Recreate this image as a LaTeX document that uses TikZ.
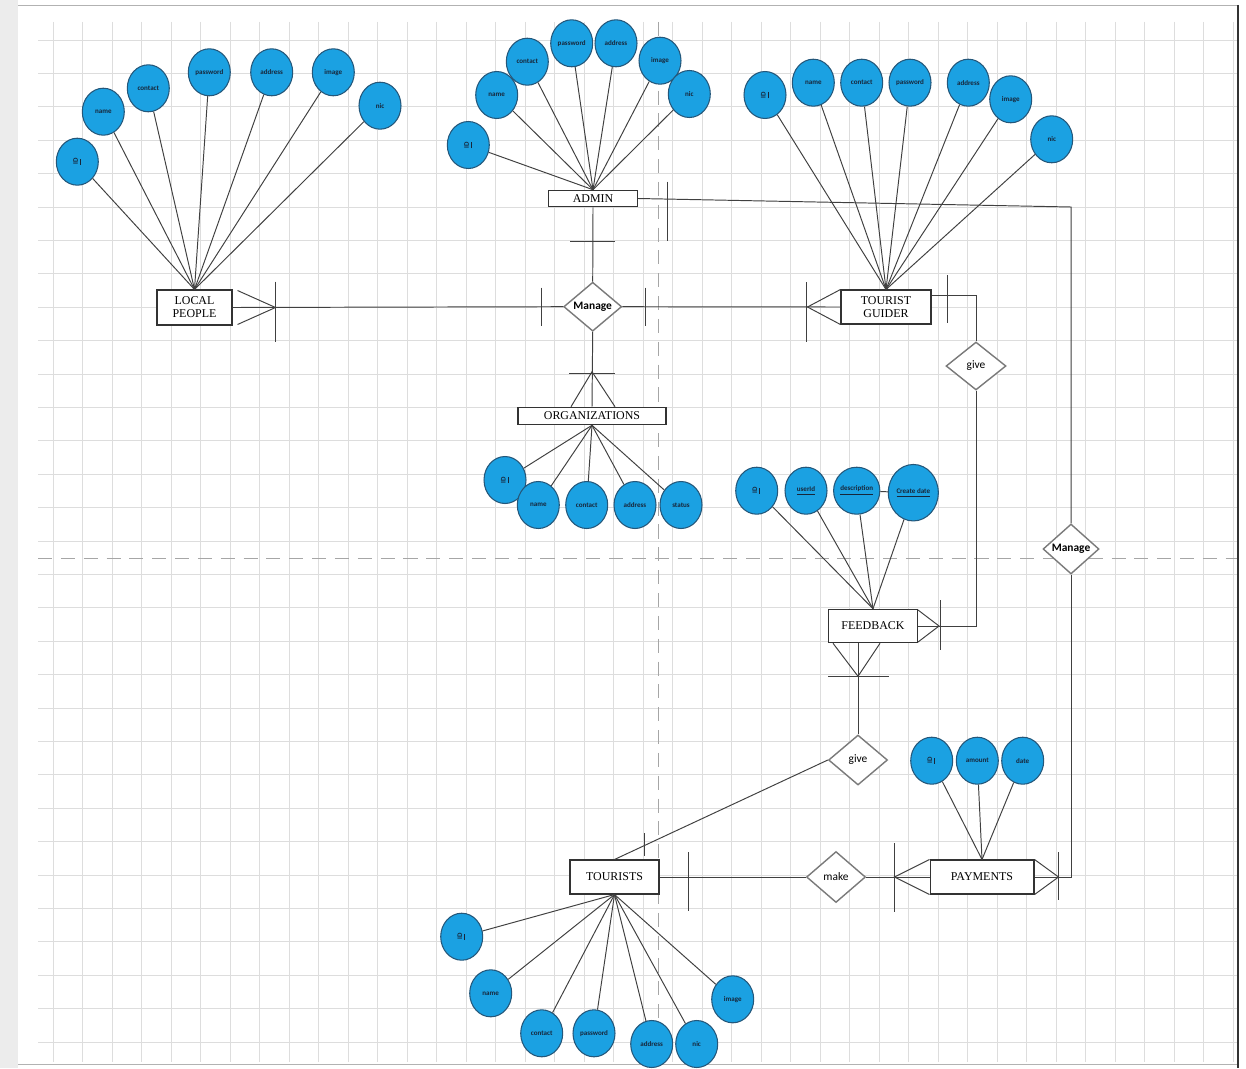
\documentclass[tikz,border=0pt]{standalone}
\usepackage{fontspec}
\setmainfont{Liberation Serif}
\newfontfamily\calfont{Carlito}
\usetikzlibrary{shapes.geometric,calc}
\definecolor{attrfill}{HTML}{1BA1E2}
\definecolor{attrdraw}{HTML}{24577A}
\definecolor{attrtext}{HTML}{17263A}
\definecolor{gridline}{HTML}{DDDDDD}
\definecolor{relline}{HTML}{7A7A7A}
\tikzstyle{attr} = [ellipse,draw=attrdraw,line width=0.6pt,fill=attrfill,minimum width=0.84cm,minimum height=0.94cm,inner sep=0pt,text=attrtext,font=\calfont\bfseries\fontsize{4}{4}\selectfont]
\tikzstyle{ent} = [rectangle,draw=black!80,line width=0.6pt,fill=white,inner sep=0pt,align=center,font=\fontsize{6.8}{7.4}\selectfont]
\tikzstyle{rel} = [diamond,draw=relline,line width=0.8pt,fill=white,inner sep=0pt,font=\calfont\fontsize{6.5}{7}\selectfont]
\tikzstyle{conn} = [draw=black!75,line width=0.55pt]
\newcommand{\idtext}{\rotatebox{90}{\underline{ID}}}

\begin{document}
\begin{tikzpicture}[x=0.02cm,y=-0.02cm]
	\useasboundingbox (0,0) rectangle (1246,1068);

	% page and grid
	\fill[white] (0,0) rectangle (1246,1068);
	\fill[gray!15] (0,0) rectangle (18,1068);
	\foreach \gx in {0,...,40}
		\draw[gridline,line width=0.4pt] ({53.3+29.5*\gx},22) -- ({53.3+29.5*\gx},1062);
	\foreach \gy in {-1,...,29}
		\draw[gridline,line width=0.4pt] (38,{73.3+33.4*\gy}) -- (1238,{73.3+33.4*\gy});
	\draw[gray!70,dashed,dash pattern=on 8pt off 5pt] (658,22) -- (658,1062);
	\draw[gray!70,dashed,dash pattern=on 8pt off 5pt] (38,558) -- (1238,558);
	\draw[gray!60] (18,5) -- (1238,5);
	\draw[gray!60] (18,1064) -- (1238,1064);
	\draw[black!80,line width=0.8pt] (1238,5) -- (1238,1068);

	% entities
	\node[ent,minimum width=1.5cm,minimum height=0.7cm] (lp) at (194.5,307.5) {LOCAL\\PEOPLE};
	\node[ent,minimum width=1.78cm,minimum height=0.33cm] (admin) at (593,198.5) {ADMIN};
	\node[ent,minimum width=1.8cm,minimum height=0.68cm] (tg) at (886,307) {TOURIST\\GUIDER};
	\node[ent,minimum width=2.96cm,minimum height=0.35cm] (org) at (592,416) {ORGANIZATIONS};
	\node[ent,minimum width=1.78cm,minimum height=0.67cm] (fb) at (873,626) {FEEDBACK};
	\node[ent,minimum width=2.08cm,minimum height=0.68cm] (pay) at (982,877) {PAYMENTS};
	\node[ent,minimum width=1.78cm,minimum height=0.68cm] (tour) at (614.5,877) {TOURISTS};

	% relationships
	\node[rel,minimum width=1.16cm,minimum height=0.98cm] (mng1) at (592.7,306.7) {\bfseries Manage};
	\node[rel,minimum width=1.12cm,minimum height=1cm] (mng2) at (1071,549) {\bfseries Manage};
	\node[rel,minimum width=1.2cm,minimum height=0.96cm] (give1) at (976,366) {give};
	\node[rel,minimum width=1.18cm,minimum height=1cm] (give2) at (858,760) {give};
	\node[rel,minimum width=1.18cm,minimum height=1.02cm] (make) at (836,877) {make};

	% attributes
	\foreach \n/\x/\y/\t in {id/77.3/161.7/{\idtext},name/103.3/111.7/name,contact/148.3/88.3/contact,
			password/209.3/72.3/password,address/271.7/72.3/address,image/333.3/72.3/image,nic/380/105.7/nic}{
		\node[attr] (lp-\n) at (\x,\y) {\t};
		\draw[conn] (lp-\n) -- (lp.north);
	}
	\foreach \n/\x/\y/\t in {id/468.3/145/{\idtext},name/496.7/95/name,contact/527.3/61.7/contact,
			password/571.7/43.3/password,address/616/43.3/address,image/660/60.7/image,nic/689.3/94/nic}{
		\node[attr] (admin-\n) at (\x,\y) {\t};
		\draw[conn] (admin-\n) -- (admin.north);
	}
	\foreach \n/\x/\y/\t in {id/765/95/{\idtext},name/813.3/82.7/name,contact/861.7/82.7/contact,
			password/910/82.7/password,address/968.3/82.7/address,image/1010.7/99.3/image,nic/1051.7/139.3/nic}{
		\node[attr] (tg-\n) at (\x,\y) {\t};
		\draw[conn] (tg-\n) -- (tg.north);
	}
	\foreach \n/\x/\y/\t in {id/505/480/{\idtext},name/538.3/505/name,contact/586.7/505/contact,
			address/635/505/address,status/681/505/status}{
		\node[attr] (org-\n) at (\x,\y) {\t};
		\draw[conn] (org-\n) -- (org.south);
	}
	\foreach \n/\x/\y/\t in {id/756.7/490.7/{\idtext},userid/806/490.7/{\underline{userId}},
			desc/856.7/490.7/{\underline{description}}}{
		\node[attr] (fb-\n) at (\x,\y) {\t};
		\draw[conn] (fb-\n) -- (fb.north);
	}
	\node[attr,minimum width=1cm,minimum height=1.13cm] (fb-date) at (913.3,492.7) {\underline{Create date}};
	\draw[conn] (fb-date) -- (fb.north);
	\draw[conn] (fb-desc) -- (fb-date);
	\foreach \n/\x/\y/\t in {id/931.7/760.7/{\idtext},amount/977.3/760.7/amount,date/1022.7/760.7/date}{
		\node[attr] (pay-\n) at (\x,\y) {\t};
		\draw[conn] (pay-\n) -- (pay.north);
	}
	\foreach \n/\x/\y/\t in {id/461.7/936.7/{\idtext},name/490.7/993.3/name,contact/541.7/1033.3/contact,
			password/594/1033.3/password,address/651.7/1044/address,nic/696.7/1044/nic,image/732.7/999.3/image}{
		\node[attr] (tour-\n) at (\x,\y) {\t};
		\draw[conn] (tour-\n) -- (tour.south);
	}

	% Manage - LOCAL PEOPLE
	\draw[conn] (mng1.west) -- (lp.east);
	\draw[conn] ($(mng1.west)+(-22,-19)$) -- ($(mng1.west)+(-22,19)$);
	\draw[conn] ($(lp.east)+(43,-26)$) -- ($(lp.east)+(43,34)$);
	\draw[conn] ($(lp.east)+(5,-17)$) -- ($(lp.east)+(43,0)$) -- ($(lp.east)+(5,17)$);

	% Manage - TOURIST GUIDER
	\draw[conn] (mng1.east) -- (tg.west);
	\draw[conn] ($(mng1.east)+(23,-19)$) -- ($(mng1.east)+(23,19)$);
	\draw[conn] ($(tg.west)+(-34,-25)$) -- ($(tg.west)+(-34,35)$);
	\draw[conn] (tg.north west) -- ($(tg.west)+(-33,0)$) -- (tg.south west);

	% ADMIN - Manage
	\draw[conn] (admin.south) -- (mng1.north);
	\draw[conn] ($(admin.south)+(-23,34)$) -- ($(admin.south)+(22,34)$);

	% Manage - ORGANIZATIONS
	\draw[conn] (mng1.south) -- (org.north);
	\draw[conn] ($(org.north)+(-23,-33)$) -- ($(org.north)+(23,-33)$);
	\draw[conn] ($(org.north)+(-21,0)$) -- ($(org.north)+(0,-35)$) -- ($(org.north)+(23,0)$);

	% TOURIST GUIDER - give - FEEDBACK
	\coordinate (tgout) at ($(tg.east)+(0,-12)$);
	\draw[conn] (tgout) -- (tgout -| give1) -- (give1.north);
	\draw[conn] ($(tg.east)+(16,-32)$) -- ($(tg.east)+(16,16)$);
	\draw[conn] (give1.south) -- (give1 |- fb.east) -- (fb.east);
	\draw[conn] ($(fb.east)+(22,-26)$) -- ($(fb.east)+(22,24)$);
	\draw[conn] ($(fb.east)+(0,-16)$) -- ($(fb.east)+(21,0)$) -- ($(fb.east)+(0,16)$);

	% FEEDBACK - give - TOURISTS
	\coordinate (fbdown) at (give2.north |- fb.south);
	\draw[conn] (give2.north) -- (fbdown);
	\draw[conn] ($(fbdown)+(-30,33)$) -- ($(fbdown)+(31,33)$);
	\draw[conn] ($(fbdown)+(-25,0)$) -- ($(fbdown)+(0,33)$) -- ($(fbdown)+(22,0)$);
	\draw[conn] (give2.west) -- (tour.north);
	\draw[conn] ($(tour.north)+(30,-26)$) -- ($(tour.north)+(30,-3)$);

	% TOURISTS - make - PAYMENTS
	\draw[conn] (tour.east) -- (make.west);
	\draw[conn] ($(tour.east)+(29,-25)$) -- ($(tour.east)+(29,34)$);
	\draw[conn] (make.east) -- (pay.west);
	\draw[conn] ($(pay.west)+(-35,-34)$) -- ($(pay.west)+(-35,35)$);
	\draw[conn] (pay.north west) -- ($(pay.west)+(-35,0)$) -- (pay.south west);

	% ADMIN - Manage - PAYMENTS
	\coordinate (acorner) at (1071,207);
	\draw[conn] (admin.east) -- (acorner) -- (mng2.north);
	\draw[conn] ($(admin.east)+(29,-17)$) -- ($(admin.east)+(29,42)$);
	\draw[conn] (mng2.south) -- (mng2.south |- pay.east) -- (pay.east);
	\draw[conn] ($(pay.east)+(24,-25)$) -- ($(pay.east)+(24,23)$);
	\draw[conn] (pay.north east) -- ($(pay.east)+(24,0)$) -- (pay.south east);
\end{tikzpicture}
\end{document}
